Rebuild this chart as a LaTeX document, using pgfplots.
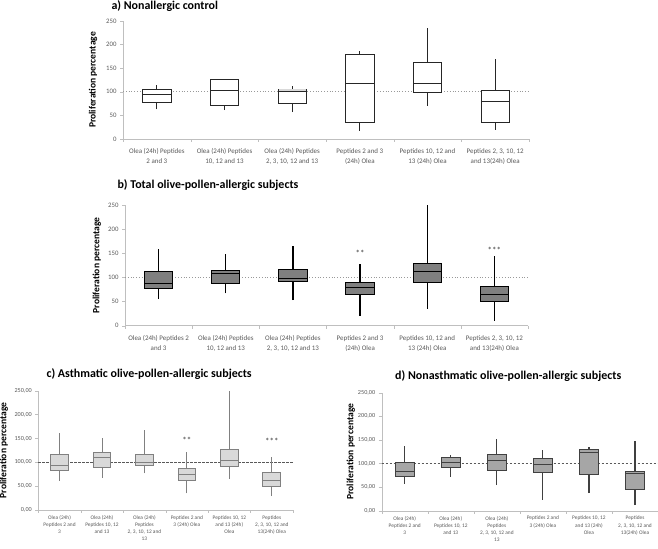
\documentclass[border=0pt]{standalone}
\usepackage{pgfplots}
\pgfplotsset{compat=1.18}
\usepackage{fontspec}
\setmainfont{Carlito}

\definecolor{axgrey}{HTML}{BFBFBF}
\definecolor{txtgrey}{HTML}{595959}
\definecolor{boxb}{HTML}{7F7F7F}
\definecolor{boxc}{HTML}{D9D9D9}
\definecolor{edgec}{HTML}{808080}
\definecolor{boxd}{HTML}{A6A6A6}
\definecolor{edged}{HTML}{404040}

\tikzset{sig/.style={font=\fontsize{9}{10}\selectfont, text=black!80}}

\pgfplotsset{
  panel/.style={
    scale only axis, anchor=south west,
    xmin=0.5, xmax=6.5, ymin=0, ymax=250,
    axis x line*=bottom, axis y line*=left,
    axis line style={draw=axgrey,-},
    xtick={1,...,6}, minor xtick={0.5,1.5,...,6.5},
    ytick={0,50,...,250},
    tick align=outside,
    major tick length=3bp, minor tick length=3bp,
    major x tick style={draw=none},
    minor x tick style={draw=axgrey},
    major y tick style={draw=axgrey},
    tick label style={text=txtgrey},
    /pgf/number format/assume math mode=true,
    clip=false,
  },
  Ab/.style={draw=black!85, fill=white, line width=0.9bp},
  Aw/.style={draw=black!85, line width=1.3bp},
  Bb/.style={draw=black, fill=boxb, line width=1bp},
  Bw/.style={draw=black, line width=1.4bp},
  Cb/.style={draw=edgec, fill=boxc, line width=0.8bp},
  Cw/.style={draw=edgec, line width=0.9bp},
  Db/.style={draw=edged, fill=boxd, line width=0.9bp},
  Dw/.style={draw=edged, line width=1.2bp},
  bigx/.style={xticklabel style={font=\fontsize{7}{10}\selectfont, align=center, yshift=-3bp},
    yticklabel style={font=\fontsize{6.8}{8}\selectfont}},
  smallx/.style={xticklabel style={font=\fontsize{5.4}{7.2}\selectfont, align=center, yshift=1bp},
    yticklabel style={font=\fontsize{6.2}{8}\selectfont,
      /pgf/number format/.cd, fixed, fixed zerofill, precision=2, use comma, 1000 sep={}}},
  ylab/.style={ylabel={Proliferation percentage},
    ylabel style={at={(axis description cs:#1,0.5)}, anchor=center,
      font=\fontsize{9.6}{11}\selectfont\bfseries}},
  dotref/.style={draw=gray!80, dotted, line width=0.8bp},
  dashref/.style={draw=txtgrey, dash pattern=on 2.5bp off 1.5bp, line width=0.7bp},
}

% one box: position, lower whisker, lower quartile, median, upper quartile, upper whisker, style letter
\newcommand\bxm[7]{%
  \pgfmathsetmacro\xl{#1-0.21}\pgfmathsetmacro\xr{#1+0.21}%
  \edef\tmp{%
    \noexpand\addplot[#7w] coordinates {(#1,#2) (#1,#3)};
    \noexpand\addplot[#7w] coordinates {(#1,#5) (#1,#6)};
    \noexpand\addplot[#7b] coordinates {(\xl,#3) (\xr,#3) (\xr,#5) (\xl,#5)} -- cycle;
    \noexpand\addplot[#7b, fill=none] coordinates {(\xl,#4) (\xr,#4)};
  }\tmp
}

\begin{document}
\begin{tikzpicture}
\useasboundingbox (0,0) rectangle (658bp,549bp);

% a) nonallergic control
\begin{axis}[panel, bigx, ylab=-0.074,
  at={(123bp,410bp)}, width=406bp, height=118bp,
  xticklabels={{Olea (24h) Peptides\\2 and 3},{Olea (24h) Peptides\\10, 12 and 13},
    {Olea (24h) Peptides\\2, 3, 10, 12 and 13},{Peptides 2 and 3\\(24h) Olea},
    {Peptides 10, 12 and\\13 (24h) Olea},{Peptides 2, 3, 10, 12\\and 13(24h) Olea}}]
\addplot[dotref] coordinates {(0.5,100) (6.5,100)};
\bxm{1}{63}{77}{94}{104}{115}{A}
\bxm{2}{61}{72}{103}{127}{128}{A}
\bxm{3}{57}{75}{100}{106}{113}{A}
\bxm{4}{17}{34}{118}{180}{187}{A}
\bxm{5}{70}{99}{118}{163}{236}{A}
\bxm{6}{20}{36}{80}{103}{169}{A}
\addplot[fill=gray!30, draw=none] coordinates {(2.80,101.5) (3.20,101.5) (3.20,105) (2.80,105)} -- cycle;
\end{axis}
\node[anchor=base west, font=\fontsize{12}{14}\selectfont\bfseries] at (108bp,539bp) {a) Nonallergic control};

% b) total olive-pollen-allergic subjects
\begin{axis}[panel, bigx, ylab=-0.070,
  at={(125bp,223.3bp)}, width=403bp, height=120.7bp,
  xticklabels={{Olea (24h) Peptides 2\\and 3},{Olea (24h) Peptides\\10, 12 and 13},
    {Olea (24h) Peptides\\2, 3, 10, 12 and 13},{Peptides 2 and 3\\(24h) Olea},
    {Peptides 10, 12 and\\13 (24h) Olea},{Peptides 2, 3, 10, 12\\and 13(24h) Olea}}]
\addplot[dotref] coordinates {(0.5,100) (6.5,100)};
\bxm{1}{55}{78}{88}{113}{158}{B}
\bxm{2}{67}{87}{108}{115}{148}{B}
\bxm{3}{53}{92}{97}{117}{165}{B}
\bxm{4}{21}{64}{79}{90}{127}{B}
\bxm{5}{35}{89}{113}{128}{250}{B}
\bxm{6}{10}{50}{64}{81}{144}{B}
\node[sig] at (axis cs:4,149) {**};
\node[sig] at (axis cs:6,156) {***};
\end{axis}
\node[anchor=base west, font=\fontsize{12}{14}\selectfont\bfseries] at (114bp,360.5bp) {b) Total olive-pollen-allergic subjects};

% c) asthmatic olive-pollen-allergic subjects
\begin{axis}[panel, smallx, ylab=-0.135,
  at={(38.3bp,39bp)}, width=254.7bp, height=119.3bp,
  xticklabels={{Olea (24h)\\Peptides 2 and\\3},{Olea (24h)\\Peptides 10, 12\\and 13},
    {Olea (24h)\\Peptides\\2, 3, 10, 12 and\\13},{Peptides 2 and\\3 (24h) Olea},
    {Peptides 10, 12\\and 13 (24h)\\Olea},{Peptides\\2, 3, 10, 12 and\\13(24h) Olea}}]
\addplot[dashref] coordinates {(0.5,100) (6.5,100)};
\bxm{1}{61}{82}{94}{117}{161}{C}
\bxm{2}{68}{89}{110}{121}{150}{C}
\bxm{3}{77}{94}{99}{117}{168}{C}
\bxm{4}{35}{61}{75}{87}{121}{C}
\bxm{5}{66}{91}{103}{128}{250}{C}
\bxm{6}{29}{50}{63}{79}{112}{C}
\node[sig] at (axis cs:4,146) {**};
\node[sig] at (axis cs:6,144) {***};
\end{axis}
\node[anchor=base west, font=\fontsize{12}{14}\selectfont\bfseries] at (43bp,171bp) {c) Asthmatic olive-pollen-allergic subjects};

% d) nonasthmatic olive-pollen-allergic subjects
\begin{axis}[panel, smallx, ylab=-0.112,
  at={(381.7bp,38.3bp)}, width=276.3bp, height=118bp,
  xticklabels={{Olea (24h)\\Peptides 2 and\\3},{Olea (24h)\\Peptides 10, 12\\and 13},
    {Olea (24h)\\Peptides\\2, 3, 10, 12 and\\13},{Peptides 2 and\\3 (24h) Olea},
    {Peptides 10, 12\\and 13 (24h)\\Olea},{Peptides\\2, 3, 10, 12 and\\13(24h) Olea}}]
\addplot[dashref] coordinates {(0.5,100) (6.5,100)};
\bxm{1}{57}{73}{84}{103}{137}{D}
\bxm{2}{72}{91}{102}{112}{118}{D}
\bxm{3}{54}{85}{106}{119}{151}{D}
\bxm{4}{23}{82}{98}{111}{128}{D}
\bxm{5}{37}{76}{124}{130}{134}{D}
\bxm{6}{12}{45}{78}{83}{148}{D}
\end{axis}
\node[anchor=base west, font=\fontsize{12}{14}\selectfont\bfseries] at (391.7bp,169bp) {d) Nonasthmatic olive-pollen-allergic subjects};
\end{tikzpicture}
\end{document}
